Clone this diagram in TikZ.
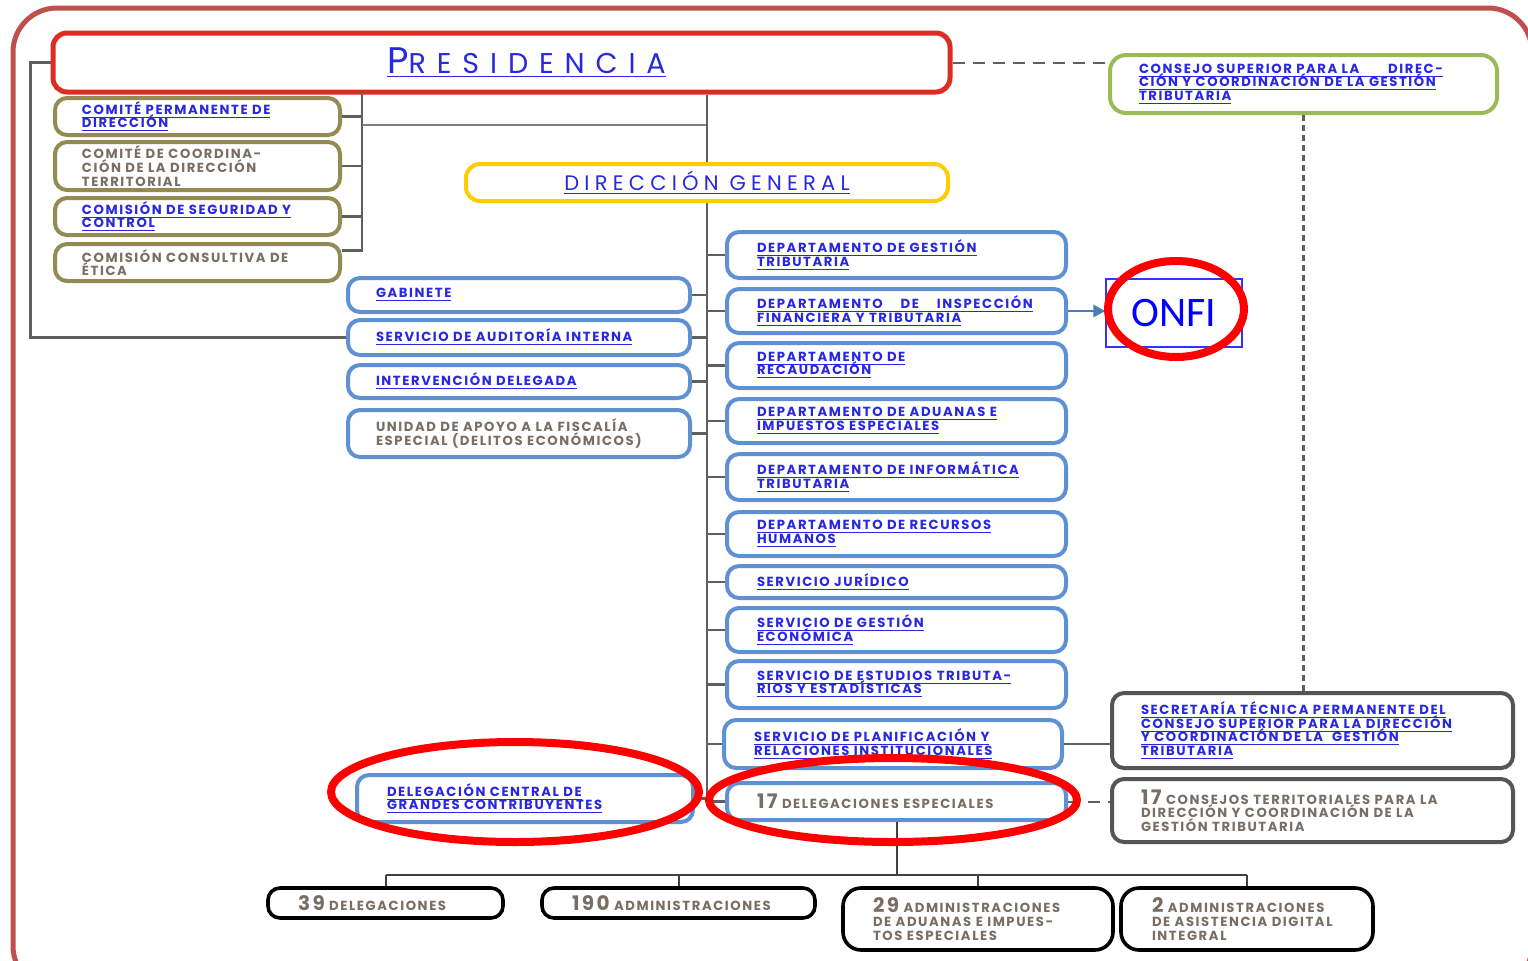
\documentclass[tikz,border=0pt]{standalone}
\usepackage{fontspec}
\newfontfamily\orgfont{Poppins}[LetterSpace=12, WordSpace=1.5]
\newfontfamily\titelfont{Poppins}[LetterSpace=25]
\newfontfamily\praesfont{Poppins}[LetterSpace=38]
\newfontfamily\onfifont{Carlito}
\usetikzlibrary{arrows.meta}
\definecolor{rahmenrot}{RGB}{192,80,77}
\definecolor{praesrot}{RGB}{220,45,35}
\definecolor{oliv}{RGB}{148,138,84}
\definecolor{gelb}{RGB}{255,204,0}
\definecolor{gruen}{RGB}{155,187,89}
\definecolor{blaurand}{RGB}{95,145,210}
\definecolor{graurand}{RGB}{85,85,85}
\definecolor{linkblau}{RGB}{40,40,225}
\definecolor{textgrau}{RGB}{120,110,100}
\definecolor{linie}{RGB}{95,95,95}
\definecolor{stahl}{RGB}{75,125,185}
\newcommand{\lnk}[1]{\underline{#1}}
\newcommand{\zahl}[1]{{\fontsize{10}{10}\selectfont #1}}
\begin{document}
\begin{tikzpicture}[x=0.5pt, y=-0.5pt,
  basis style/.style={draw, rounded corners=6pt, line width=2pt, align=left, inner ysep=0pt, font={\orgfont\bfseries\fontsize{6.6}{6.8}\selectfont\lineskiplimit=-8pt}},
  comite style/.style={basis style, draw=oliv, inner xsep=13.5pt, text width=115.5pt},
  blau style/.style={basis style, draw=blaurand, inner xsep=14pt, text width=143pt},
  dept style/.style={basis style, draw=blaurand, inner xsep=15pt, text width=139.5pt},
  grau style/.style={basis style, draw=graurand, inner xsep=14.5pt, text width=171.5pt},
  unten style/.style={basis style, draw=black, line width=1.8pt, inner xsep=15pt},
  lnk style/.style={text=linkblau},
  txt style/.style={text=textgrau},
  verbindung/.style={draw=linie, line width=1.3pt},
  strich/.style={draw=linie, line width=1pt, dash pattern=on 6pt off 4pt},
  kreis/.style={draw=red, line width=4pt}]
\useasboundingbox (0,0) rectangle (1528,960);
\fill[white] (0,0) rectangle (1528,960);
\begin{scope}
\clip (0,0) rectangle (1528,960);
\draw[rahmenrot, line width=2.5pt, rounded corners=22pt] (13,8) rectangle (1532,990);
\end{scope}

% Presidencia und Ausschuesse
\node[draw=praesrot, line width=2.5pt, rounded corners=7pt, minimum width=448.5pt, minimum height=29.5pt, text=linkblau] (pres) at (501.5,62.5)
  {\hspace*{25pt}\raisebox{-2pt}{\lnk{\praesfont\fontsize{18.5}{18.5}\selectfont P\fontsize{14.3}{14.3}\selectfont RESIDENCIA}}};
\node[comite style, lnk style, minimum height=18.5pt] (cp) at (197.5,116.5) {\lnk{COMITÉ PERMANENTE DE}\\\lnk{DIRECCIÓN}};
\node[comite style, txt style, minimum height=24pt] (cc) at (197.5,166) {COMITÉ DE COORDINA-\\CIÓN DE LA DIRECCIÓN\\TERRITORIAL};
\node[comite style, lnk style, minimum height=18.5pt] (cs) at (197.5,216.5) {\lnk{COMISIÓN DE SEGURIDAD Y}\\\lnk{CONTROL}};
\node[comite style, txt style, minimum height=18.5pt] (ce) at (197.5,262.5) {COMISIÓN CONSULTIVA DE\\ÉTICA};

\node[draw=gruen, line width=2pt, rounded corners=8pt, align=left, inner xsep=14.5pt, inner ysep=0pt, text width=164.5pt, minimum height=29pt, text=linkblau, font={\orgfont\bfseries\fontsize{6.6}{6.8}\selectfont\lineskiplimit=-8pt}] (cst) at (1303.5,84)
  {\lnk{CONSEJO SUPERIOR PARA LA \hspace{10pt} DIREC-}\\\lnk{CIÓN Y COORDINACIÓN DE LA GESTIÓN}\\\lnk{TRIBUTARIA}};

\node[draw=gelb, line width=2pt, rounded corners=7pt, minimum width=241pt, minimum height=18.5pt, inner sep=0pt, text=linkblau, font={\titelfont\fontsize{10.5}{10.5}\selectfont}] (dg) at (707,182.5) {\lnk{DIRECCIÓN GENERAL}};

% linke Spalte
\node[blau style, lnk style, minimum height=17pt] (gab) at (519,295) {\lnk{GABINETE}};
\node[blau style, lnk style, minimum height=17.5pt] (sai) at (519,337.5) {\lnk{SERVICIO DE AUDITORÍA INTERNA}};
\node[blau style, lnk style, minimum height=16.5pt] (ivd) at (519,381.5) {\lnk{INTERVENCIÓN DELEGADA}};
\node[blau style, txt style, minimum height=23.5pt] (ufe) at (519,433.5) {UNIDAD DE APOYO A LA FISCALÍA\\ESPECIAL (DELITOS ECONÓMICOS)};
\node[blau style, lnk style, inner xsep=15pt, text width=138pt, minimum height=23.5pt] (dcgc) at (525,798.5) {\lnk{DELEGACIÓN CENTRAL DE}\\\lnk{GRANDES CONTRIBUYENTES}};

% rechte Spalte
\node[dept style, lnk style, minimum height=23pt] (dgt) at (896.5,255) {\lnk{DEPARTAMENTO DE GESTIÓN}\\\lnk{TRIBUTARIA}};
\node[dept style, lnk style, minimum height=22pt] (dift) at (896.5,311) {\lnk{DEPARTAMENTO\hspace{9pt}DE\hspace{9pt}INSPECCIÓN}\\\lnk{FINANCIERA Y TRIBUTARIA}};
\node[dept style, lnk style, minimum height=22.5pt] (dr) at (896.5,365.5) {\lnk{DEPARTAMENTO DE}\\\lnk{RECAUDACIÓN}};
\node[dept style, lnk style, minimum height=22pt] (dai) at (896.5,421) {\lnk{DEPARTAMENTO DE ADUANAS E}\\\lnk{IMPUESTOS ESPECIALES}};
\node[dept style, lnk style, minimum height=23pt] (dit) at (896.5,477) {\lnk{DEPARTAMENTO DE INFORMÁTICA}\\\lnk{TRIBUTARIA}};
\node[dept style, lnk style, minimum height=22pt] (drh) at (896.5,534) {\lnk{DEPARTAMENTO DE RECURSOS}\\\lnk{HUMANOS}};
\node[dept style, lnk style, minimum height=16pt] (sj) at (896.5,582) {\lnk{SERVICIO JURÍDICO}};
\node[dept style, lnk style, minimum height=22pt] (sge) at (896.5,630) {\lnk{SERVICIO DE GESTIÓN}\\\lnk{ECONÓMICA}};
\node[dept style, lnk style, minimum height=23.5pt] (set) at (896.5,684.5) {\lnk{SERVICIO DE ESTUDIOS TRIBUTA-}\\\lnk{RIOS Y ESTADÍSTICAS}};
\node[dept style, lnk style, text width=139pt, minimum height=24pt] (spr) at (893,744) {\lnk{SERVICIO DE PLANIFICACIÓN Y}\\\lnk{RELACIONES INSTITUCIONALES}};
\node[dept style, txt style, minimum height=18.5pt] (de17) at (896.5,801.5) {\zahl{17} DELEGACIONES ESPECIALES};

\node[draw=blue!80, line width=0.6pt, minimum width=68pt, minimum height=34pt, inner sep=0pt, text=blue, font={\onfifont\fontsize{21}{21}\selectfont}] (onfi) at (1174,313) {ONFI};

\node[grau style, lnk style, minimum height=37.5pt] (stp) at (1312.5,730.5) {\lnk{SECRETARÍA TÉCNICA PERMANENTE DEL}\\\lnk{CONSEJO SUPERIOR PARA LA DIRECCIÓN}\\\lnk{Y COORDINACIÓN DE LA\ \ GESTIÓN}\\\lnk{TRIBUTARIA}};
\node[grau style, txt style, minimum height=31.5pt] (ct17) at (1312.5,810.5) {\zahl{17} CONSEJOS TERRITORIALES PARA LA\\DIRECCIÓN Y COORDINACIÓN DE LA\\GESTIÓN TRIBUTARIA};

% unterste Ebene
\node[unten style, txt style, text width=87.5pt, minimum height=15pt] (d39) at (385.5,903) {\zahl{39}\ DELEGACIONES};
\node[unten style, txt style, text width=106.5pt, minimum height=15pt] (a190) at (678.5,903) {\zahl{190}\ ADMINISTRACIONES};
\node[unten style, txt style, text width=105pt, minimum height=31pt, rounded corners=9pt] (a29) at (978,919) {\zahl{29}\ ADMINISTRACIONES\\DE ADUANAS E IMPUES-\\TOS ESPECIALES};
\node[unten style, txt style, inner xsep=15.5pt, text width=95pt, minimum height=31pt, rounded corners=9pt] (a2) at (1247,919) {\zahl{2}\ ADMINISTRACIONES\\DE ASISTENCIA DIGITAL\\INTEGRAL};

% Verbindungen
\draw[verbindung] (pres.west) -- ++(-20,0) |- (sai.west);
\coordinate (kt) at (362,92);
\coordinate (kq) at (362,125);
\draw[verbindung] (kt) |- ([yshift=6pt]ce.east);
\foreach \n in {cp,cc,cs}
  \draw[verbindung] (\n.east) -- (\n.east -| kt);
\draw[draw=linie!80, line width=0.9pt] (kq) -- (kq -| dg.north);
\draw[verbindung] (dg.north |- pres.south) -- (dg.north);
\draw[verbindung] (dg.south) -- ([yshift=-2pt]dg.south |- de17.west);
\foreach \n in {gab,sai,ivd,ufe,dcgc}
  \draw[verbindung] (\n.east) -- (\n.east -| dg.south);
\foreach \n in {dgt,dift,dr,dai,dit,drh,sj,sge,set,spr,de17}
  \draw[verbindung] (\n.west) -- (\n.west -| dg.south);
\draw[strich] (pres.east) -- (pres.east -| cst.west);
\draw[draw=linie, line width=1.4pt, dash pattern=on 3pt off 2pt] (cst.south) -- (cst.south |- stp.north);
\draw[draw=linie, line width=1pt] (spr.east) -- (spr.east -| stp.west);
\draw[strich] (de17.east) -- (de17.east -| ct17.west);
\draw[stahl, line width=1.3pt, -{Triangle[length=6pt, width=6pt]}] (dift.east) -- (dift.east -| onfi.west);
\draw[draw=black!75, line width=1pt] (de17.south) -- ++(0,53) coordinate (bus);
\draw[draw=black!75, line width=1pt] (d39.north |- bus) -- (a2.north |- bus);
\foreach \n in {d39,a190,a29,a2}
  \draw[draw=black!75, line width=1pt] (\n.north) -- (\n.north |- bus);

% rote Markierungen
\draw[kreis] (515,792) ellipse [x radius=92pt, y radius=25pt];
\draw[kreis] (893,800) ellipse [x radius=92pt, y radius=21pt];
\draw[kreis] (1176,309) ellipse [x radius=34pt, y radius=24pt];
\end{tikzpicture}
\end{document}
